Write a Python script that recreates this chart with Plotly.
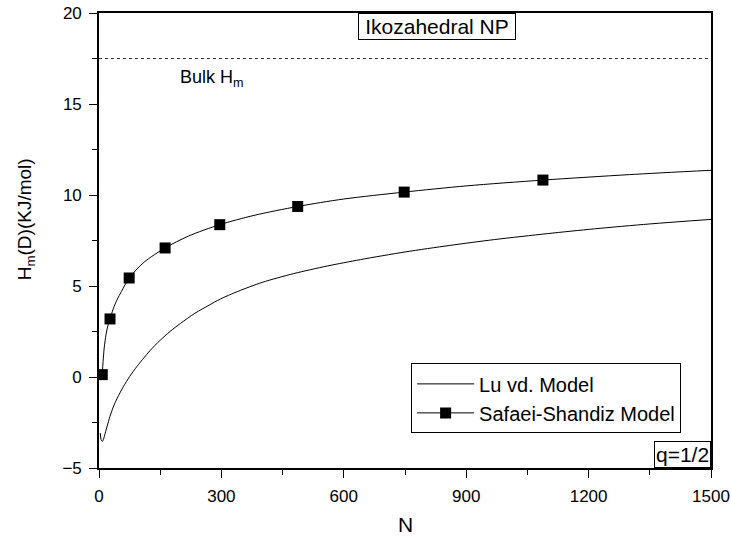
import plotly.graph_objects as go

# Lu vd. Model curve
lu_n = [3, 5, 8, 11, 15, 20, 27, 35, 45, 60, 75, 93, 110, 125, 150, 174, 200, 235, 270, 297, 340, 400, 477, 560, 641, 750, 860, 969, 1100, 1214, 1350, 1500]
lu_h = [-3.08, -3.42, -3.54, -3.42, -3.1, -2.7, -2.16, -1.65, -1.15, -0.52, 0.02, 0.58, 1.05, 1.45, 2.02, 2.5, 2.95, 3.5, 3.95, 4.28, 4.7, 5.2, 5.68, 6.1, 6.45, 6.87, 7.23, 7.55, 7.88, 8.14, 8.41, 8.66]

# Safaei-Shandiz Model curve
ss_n = [8, 10, 13, 17, 21, 27, 35, 45, 55, 74, 110, 162, 220, 296, 380, 487, 600, 748, 900, 1088, 1300, 1500]
ss_h = [0.13, 0.85, 1.65, 2.3, 2.75, 3.19, 3.75, 4.28, 4.7, 5.44, 6.3, 7.09, 7.75, 8.37, 8.88, 9.37, 9.78, 10.16, 10.5, 10.82, 11.12, 11.36]

# Safaei-Shandiz markers
ss_mark_n = [8, 27, 74, 162, 296, 487, 748, 1088]
ss_mark_h = [0.13, 3.19, 5.44, 7.09, 8.37, 9.37, 10.16, 10.82]

# Bulk H_m reference line
bulk_n = [0, 1500]
bulk_h = [17.5, 17.5]

x_ticks = [0, 300, 600, 900, 1200, 1500]
y_ticks = [-5, 0, 5, 10, 15, 20]

FONT = "Liberation Sans, Arial, sans-serif"

fig = go.Figure()
fig.add_trace(go.Scatter(x=bulk_n, y=bulk_h, mode="lines",
                         line=dict(color="#333333", width=1, dash="3px,3px"),
                         showlegend=False, hoverinfo="skip"))
fig.add_trace(go.Scatter(x=lu_n, y=lu_h, mode="lines", name="Lu vd. Model",
                         line=dict(color="black", width=1, shape="spline", smoothing=0.8)))
fig.add_trace(go.Scatter(x=ss_n, y=ss_h, mode="lines", showlegend=False,
                         line=dict(color="black", width=1, shape="spline", smoothing=0.8)))
fig.add_trace(go.Scatter(x=ss_mark_n, y=ss_mark_h, mode="markers", showlegend=False,
                         marker=dict(symbol="square", size=11, color="black")))
fig.add_trace(go.Scatter(x=[None], y=[None], mode="lines+markers", name="Safaei-Shandiz Model",
                         line=dict(color="black", width=1),
                         marker=dict(symbol="square", size=11, color="black")))

axis_common = dict(
    showline=True, linecolor="black", linewidth=1.6, mirror=True,
    showgrid=False, zeroline=False, automargin=False,
    ticks="outside", ticklen=8, tickwidth=1.3, tickcolor="black",
    ticklabelstandoff=4, ticklabeloverflow="allow",
    tickfont=dict(family=FONT, size=17, color="black"),
)

fig.update_xaxes(range=[0, 1500], tickvals=x_ticks,
                 minor=dict(dtick=150, ticks="outside", ticklen=5, tickwidth=1.3, tickcolor="black"),
                 **axis_common)
fig.update_yaxes(range=[-5, 20], tickvals=y_ticks,
                 minor=dict(dtick=2.5, ticks="outside", ticklen=5, tickwidth=1.3, tickcolor="black"),
                 **axis_common)

fig.update_layout(
    width=731, height=541,
    margin=dict(l=99, r=20, t=13, b=73, autoexpand=False),
    plot_bgcolor="white", paper_bgcolor="white",
    font=dict(family=FONT, color="black"),
    legend=dict(x=0.51, y=0.153, xanchor="left", yanchor="middle",
                bordercolor="black", borderwidth=1, bgcolor="white",
                font=dict(family=FONT, size=20), itemwidth=57,
                tracegroupgap=0),
    annotations=[
        dict(text="Ikozahedral NP", xref="paper", yref="paper", x=0.552, y=1.0,
             xanchor="center", yanchor="top", showarrow=False,
             font=dict(family=FONT, size=21), bordercolor="black", borderwidth=1,
             borderpad=1, bgcolor="white", width=154),
        dict(text="q=1/2", xref="paper", yref="paper", x=1.0, y=0.0,
             xanchor="right", yanchor="bottom", showarrow=False,
             font=dict(family=FONT, size=21), bordercolor="black", borderwidth=1,
             borderpad=1, bgcolor="white"),
        dict(text="Bulk H<sub>m</sub>", xref="paper", yref="paper", x=0.129, y=0.857,
             xanchor="left", yanchor="middle", showarrow=False,
             font=dict(family=FONT, size=18)),
        dict(text="N", xref="paper", yref="paper", x=0.5, y=-0.125,
             xanchor="center", yanchor="middle", showarrow=False,
             font=dict(family=FONT, size=21)),
        dict(text="H<sub>m</sub>(D)(KJ/mol)", xref="paper", yref="paper", x=-0.119, y=0.547,
             xanchor="center", yanchor="middle", showarrow=False, textangle=-90,
             font=dict(family=FONT, size=19)),
    ],
)

fig.write_html("out.html",
               config={"displayModeBar": False},
               post_script="document.body.style.margin='0';document.body.style.overflow='hidden';")
